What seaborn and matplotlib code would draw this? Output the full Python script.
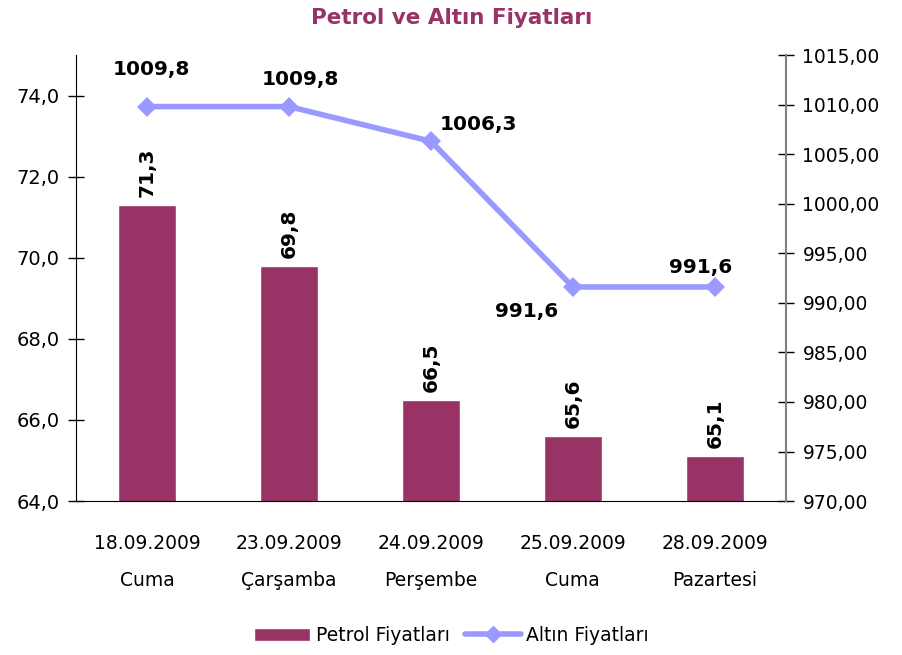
import matplotlib
matplotlib.use("Agg")
import matplotlib.pyplot as plt
import seaborn as sns
import pandas as pd
from matplotlib.ticker import FuncFormatter
from matplotlib.patches import Patch
from matplotlib.lines import Line2D

# data
dates = ["18.09.2009\nCuma", "23.09.2009\nÇarşamba", "24.09.2009\nPerşembe",
         "25.09.2009\nCuma", "28.09.2009\nPazartesi"]
petrol = [71.3, 69.8, 66.5, 65.6, 65.1]
altin = [1009.8, 1009.8, 1006.3, 991.6, 991.6]

df = pd.DataFrame({"tarih": dates, "petrol": petrol, "altin": altin})

bar_color = "#993366"
line_color = "#9999FF"

sns.set_style("white")
plt.rcParams['font.family'] = ['DejaVu Sans']
plt.rcParams['text.color'] = 'black'
plt.rcParams['xtick.color'] = 'black'
plt.rcParams['ytick.color'] = 'black'
plt.rcParams['axes.labelcolor'] = 'black'

fig = plt.figure(figsize=(9.03, 6.55), dpi=100)
ax = fig.add_axes([0.0842, 0.235, 0.786, 0.681])

sns.barplot(data=df, x="tarih", y="petrol", color=bar_color, width=0.41,
            saturation=1, ax=ax)
ax.set_ylim(64, 75)
ax.set_yticks([64, 66, 68, 70, 72, 74])
ax.yaxis.set_major_formatter(FuncFormatter(lambda v, p: f"{v:.1f}".replace(".", ",")))
ax.set_xlim(-0.5, 4.5)
ax.set_xlabel("")
ax.set_ylabel("")

for i, v in enumerate(petrol):
    ax.text(i, v + 0.2, f"{v:.1f}".replace(".", ","), rotation=90, ha="center",
            va="bottom", fontsize=14.5, fontweight="bold")

ax2 = ax.twinx()
sns.pointplot(data=df, x="tarih", y="altin", color=line_color, markers="D",
              linestyles="-", ax=ax2, markersize=7, linewidth=4)
ax2.set_ylim(970, 1015)
ax2.set_yticks(range(970, 1016, 5))
ax2.yaxis.set_major_formatter(FuncFormatter(lambda v, p: f"{v:.2f}".replace(".", ",")))
ax2.set_xlim(-0.5, 4.5)
ax2.set_xlabel("")
ax2.set_ylabel("")

# gold value labels
offsets = [(0.03, 2.8, "center", "bottom"), (0.08, 1.8, "center", "bottom"),
           (0.06, 0.7, "left", "bottom"), (-0.1, -1.5, "right", "top"),
           (-0.1, 1.0, "center", "bottom")]
for i, v in enumerate(altin):
    dx, dy, ha, va = offsets[i]
    ax2.text(i + dx, v + dy, f"{v:.1f}".replace(".", ","), ha=ha, va=va,
             fontsize=14.5, fontweight="bold")

for a in (ax, ax2):
    a.spines["top"].set_visible(False)
ax.spines["right"].set_visible(False)
ax2.spines["left"].set_visible(False)
ax2.spines["bottom"].set_visible(False)
ax.spines["left"].set_color("black")
ax.spines["bottom"].set_color("black")
ax2.spines["right"].set_color("#808080")
ax2.spines["right"].set_linewidth(1.5)

ax.tick_params(axis="y", direction="inout", length=12, width=1, labelsize=14, pad=6)
ax.tick_params(axis="x", length=0, labelsize=13.5, pad=24)
ax2.tick_params(axis="y", direction="inout", length=12, width=1, labelsize=13.5, pad=6)
for t in ax.get_xticklabels():
    t.set_linespacing(2.2)

fig.suptitle("Petrol ve Altın Fiyatları", x=0.5, y=0.988, color=bar_color,
             fontsize=15.5, fontweight="bold")

handles = [Patch(facecolor=bar_color, label="Petrol Fiyatları"),
           Line2D([], [], color=line_color, lw=4, marker="D", markersize=8,
                  label="Altın Fiyatları")]
fig.legend(handles=handles, loc="lower center", bbox_to_anchor=(0.5, -0.01),
           ncol=2, frameon=False, fontsize=13.5, handlelength=3.0,
           columnspacing=0.8, handletextpad=0.3)

fig.savefig("out.png", dpi=100)
